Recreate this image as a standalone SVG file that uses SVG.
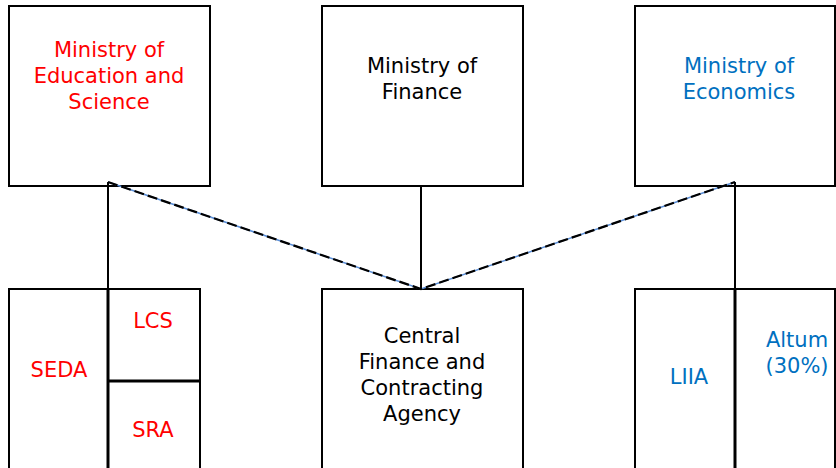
<svg xmlns="http://www.w3.org/2000/svg" width="836" height="468" viewBox="0 0 836 468">
<style>
.box{fill:#fff;stroke:#000;stroke-width:2}
text{font-family:"DejaVu Sans",Verdana,sans-serif;font-size:21px;text-anchor:middle}
.r{fill:#ff0000}.b{fill:#0070c0}.k{fill:#000}
.ln{stroke:#000;stroke-width:2;fill:none}
.div{stroke:#000;stroke-width:3;fill:none}
.dbase{stroke:#5b8fd8;stroke-width:1.5;fill:none}
.dash{stroke:#000;stroke-width:2.2;stroke-dasharray:10 4;fill:none}
</style>
<rect width="836" height="468" fill="#fff"/>
<g id="ministry-education">
<rect class="box" x="9" y="6" width="201" height="180"/>
<text class="r" x="109" y="57">Ministry of</text>
<text class="r" x="109" y="83">Education and</text>
<text class="r" x="109" y="109">Science</text>
</g>
<g id="ministry-finance">
<rect class="box" x="322" y="6" width="201" height="180"/>
<text class="k" x="422" y="73">Ministry of</text>
<text class="k" x="422" y="99">Finance</text>
</g>
<g id="ministry-economics">
<rect class="box" x="635" y="6" width="200" height="180"/>
<text class="b" x="739" y="73">Ministry of</text>
<text class="b" x="739" y="99">Economics</text>
</g>
<g id="seda">
<rect class="box" x="9" y="289" width="99" height="182"/>
<text class="r" x="59" y="377">SEDA</text>
</g>
<g id="lcs">
<rect class="box" x="108" y="289" width="92" height="92"/>
<text class="r" x="153" y="328">LCS</text>
</g>
<g id="sra">
<rect class="box" x="108" y="381" width="92" height="90"/>
<text class="r" x="153" y="437">SRA</text>
</g>
<g id="cfca">
<rect class="box" x="322" y="289" width="201" height="182"/>
<text class="k" x="422" y="343">Central</text>
<text class="k" x="422" y="369">Finance and</text>
<text class="k" x="422" y="395">Contracting</text>
<text class="k" x="422" y="421">Agency</text>
</g>
<g id="liia">
<rect class="box" x="635" y="289" width="100" height="182"/>
<text class="b" x="689" y="384">LIIA</text>
</g>
<g id="altum">
<rect class="box" x="735" y="289" width="100" height="182"/>
<text class="b" x="797" y="347">Altum</text>
<text class="b" x="797" y="373">(30%)</text>
</g>
<g id="connectors">
<line class="ln" x1="108" y1="182" x2="108" y2="289"/>
<line class="ln" x1="421" y1="186" x2="421" y2="289"/>
<line class="ln" x1="735" y1="182" x2="735" y2="289"/>
<line class="div" x1="108" y1="289" x2="108" y2="468"/>
<line class="div" x1="108" y1="381" x2="200" y2="381"/>
<line class="div" x1="735" y1="289" x2="735" y2="468"/>
<polyline class="dbase" points="108,182 421,289 735,182"/>
<polyline class="dash" points="108,182 421,289 735,182"/>
</g>
</svg>
